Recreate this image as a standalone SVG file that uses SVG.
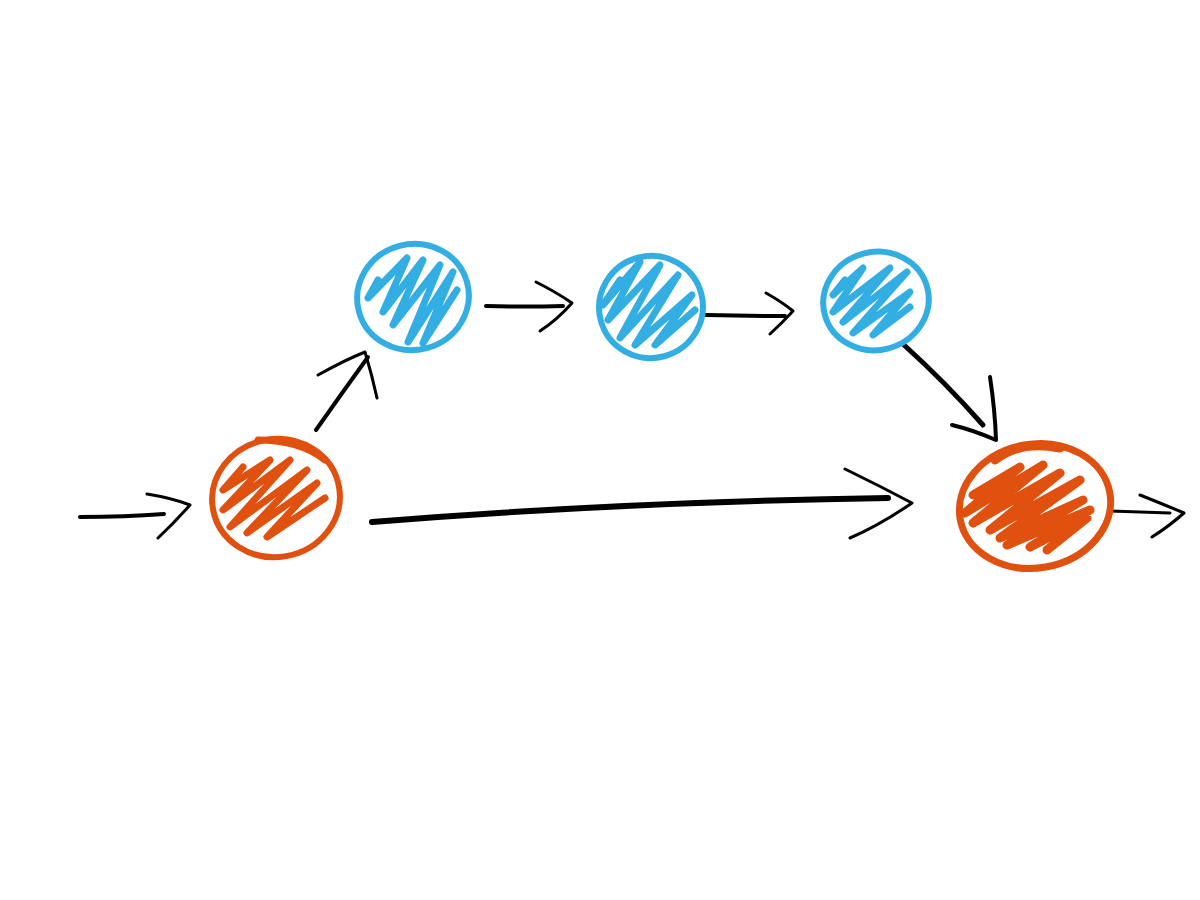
<svg xmlns="http://www.w3.org/2000/svg" width="1200" height="900" viewBox="0 0 1200 900">
<style>
.bg{fill:#ffffff}
.o{stroke:#E0500E}
.b{stroke:#33AEE3}
.ring{fill:none;stroke-width:6;stroke-linecap:round}
.scr{fill:none;stroke-width:7;stroke-linecap:round;stroke-linejoin:round}
.ln{fill:none;stroke:#000;stroke-width:4;stroke-linecap:round;stroke-linejoin:round}
.hd{fill:none;stroke:#000;stroke-width:3;stroke-linecap:round;stroke-linejoin:round}
</style>
<rect class="bg" x="0" y="0" width="1200" height="900"/>
<g id="connectors">
  <path class="ln" d="M80,517 Q125,517 164,514"/>
  <path class="hd" d="M147,494 Q172,498 190,505 Q175,522 158,538"/>
  <path class="ln" d="M316,430 Q342,393 368,357"/>
  <path class="hd" d="M318,375 Q345,360 365,352 Q372,375 377,398"/>
  <path class="ln" d="M486,306 Q525,307 563,306"/>
  <path class="hd" d="M536,282 Q556,292 572,303 Q557,320 540,331"/>
  <path class="ln" d="M706,315 Q745,316 785,316"/>
  <path class="hd" d="M766,293 Q782,302 793,311 Q783,322 770,334"/>
  <path class="ln" d="M904,345 Q945,382 983,425" style="stroke-width:5"/>
  <path class="hd" d="M990,377 Q995,410 996,440 Q973,430 952,425" style="stroke-width:4"/>
  <path class="ln" d="M372,522 Q620,502 888,498" style="stroke-width:6"/>
  <path class="hd" d="M845,469 Q880,486 912,503 Q880,525 850,538" style="stroke-width:3"/>
  <path class="ln" d="M1110,511 Q1140,512 1170,513" style="stroke-width:3"/>
  <path class="hd" d="M1140,495 Q1165,505 1184,513 Q1168,527 1152,537"/>
</g>
<g id="nodeA">
  <ellipse class="ring o" cx="276" cy="498" rx="64" ry="59" transform="rotate(-10 276 498)"/>
  <path class="ring o" d="M258,440 Q300,440 325,460" style="stroke-width:7"/>
  <polyline class="scr o" points="243,467 223,490 270,460 223,510 290,460 230,527 307,470 247,533 317,483 267,537 325,498"/>
</g>
<g id="nodeB">
  <ellipse class="ring b" cx="413" cy="297" rx="56" ry="53" transform="rotate(-15 413 297)"/>
  <polyline class="scr b" points="378,280 368,298 407,258 383,312 423,260 393,325 440,265 408,342 453,272 423,343 457,290"/>
</g>
<g id="nodeC">
  <ellipse class="ring b" cx="651" cy="307" rx="52" ry="51" transform="rotate(-15 651 307)"/>
  <polyline class="scr b" points="620,280 603,305 640,262 608,320 660,265 620,338 678,275 635,345 692,295 655,345 695,310"/>
</g>
<g id="nodeD">
  <ellipse class="ring b" cx="876" cy="301" rx="53" ry="49" transform="rotate(-15 876 301)"/>
  <polyline class="scr b" points="845,280 833,295 863,268 833,312 890,268 843,322 907,272 853,333 910,292 873,335 910,307"/>
</g>
<g id="nodeE">
  <ellipse class="ring o" cx="1035" cy="506" rx="76" ry="62" transform="rotate(-10 1035 506)" style="stroke-width:7"/>
  <path class="ring o" d="M995,460 Q1020,440 1060,448" style="stroke-width:9"/>
  <polyline class="scr o" points="973,495 1020,467 965,513 1043,465 973,523 1060,473 990,530 1080,480 1000,538 1083,500 1007,545 1090,510 1030,547 1087,518 1047,550" style="stroke-width:9"/>
</g>
</svg>
